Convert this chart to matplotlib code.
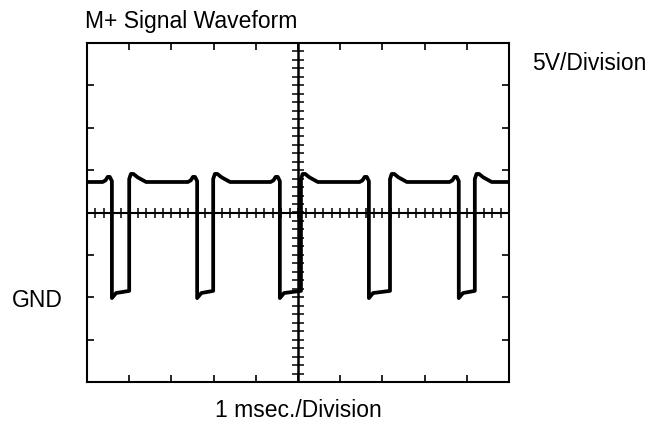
import matplotlib.pyplot as plt
import numpy as np

# scope readings, in divisions (x: 1 msec/div, y: 5 V/div, centre line = 0)
fall_div = [0.59, 2.61, 4.57, 6.68, 8.81]
rise_div = [1.00, 2.99, 5.07, 7.18, 9.19]
high_level = 0.72
bump_level = 0.84
overshoot_level = 0.91
low_tip = -2.02
low_settle = -1.90
low_end = -1.85

title = "M+ Signal Waveform"
volt_label = "5V/Division"
time_label = "1 msec./Division"
gnd_label = "GND"

plt.rcParams['font.family'] = ['Liberation Sans', 'DejaVu Sans']

# build the trace from the edge readings
t, v = [0.0], [high_level]
for f, r in zip(fall_div, rise_div):
    t += [f - 0.22, f - 0.15, f - 0.1, f - 0.05, f, f, f + 0.1, r,
          r, r + 0.04, r + 0.1, r + 0.2, r + 0.4]
    v += [high_level, high_level + 0.04, bump_level, bump_level, bump_level - 0.1,
          low_tip, low_settle, low_end,
          overshoot_level - 0.12, overshoot_level, overshoot_level,
          overshoot_level - 0.08, high_level]
t.append(10.0)
v.append(high_level)

fig = plt.figure(figsize=(6.65, 4.22), dpi=100)
ax = fig.add_axes([87 / 665, 1 - 382 / 422, 422 / 665, 339 / 422])
ax.set_xlim(0, 10)
ax.set_ylim(-4, 4)

for s in ax.spines.values():
    s.set_linewidth(1.5)
ax.set_xticks(np.arange(1, 10))
ax.set_yticks(np.arange(-3, 4))
ax.tick_params(direction='in', length=5, width=1.2, top=True, right=True,
               labelbottom=False, labelleft=False)

# graticule centre lines with fine marks
ax.axhline(0, color='black', lw=1.5)
ax.axvline(5, color='black', lw=1.8)
fine_x = np.arange(0.2, 10, 0.2)
fine_y = np.arange(-3.8, 4, 0.2)
ax.plot(fine_x, np.zeros_like(fine_x), ls='none', marker='|', ms=6.5, mew=1.1, color='black')
ax.plot(np.full_like(fine_y, 5), fine_y, ls='none', marker='_', ms=8, mew=1.1, color='black')

ax.plot(t, v, color='black', lw=2.7, solid_joinstyle='round', solid_capstyle='round')

fs = 16.5
fig.text(85 / 665, 1 - 28 / 422, title, fontsize=fs, ha='left', va='baseline')
fig.text(532 / 665, 1 - 70 / 422, volt_label, fontsize=fs, ha='left', va='baseline')
fig.text(63 / 665, 1 - 307 / 422, gnd_label, fontsize=fs, ha='right', va='baseline')
fig.text(298 / 665, 1 - 417 / 422, time_label, fontsize=fs, ha='center', va='baseline')

fig.savefig('out.png', dpi=100)
